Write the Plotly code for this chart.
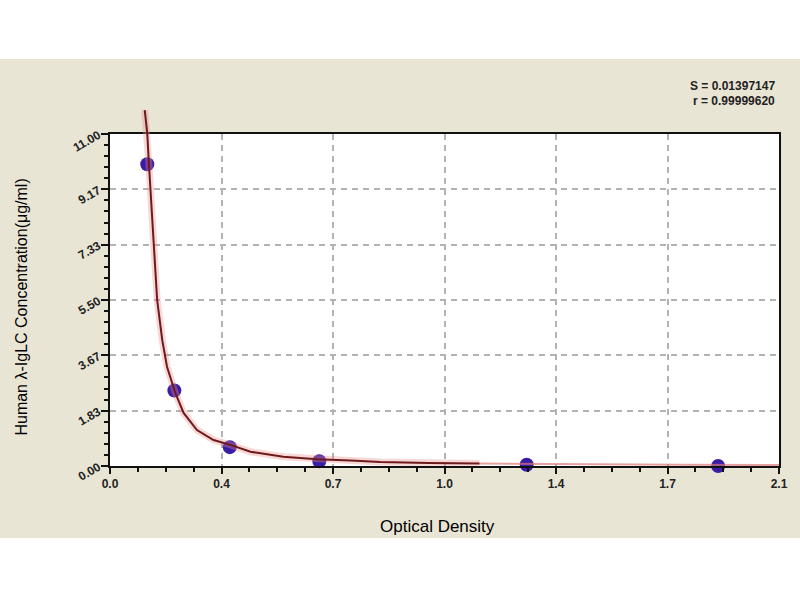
import plotly.graph_objects as go

# Standard points (optical density vs concentration)
od_points = [0.117, 0.202, 0.376, 0.657, 1.308, 1.909]
conc_points = [10.0, 2.5, 0.625, 0.156, 0.039, 0.0]

# Fitted curve
curve_od = [0.109, 0.117, 0.122, 0.132, 0.137, 0.148, 0.164, 0.179, 0.205, 0.231,
            0.273, 0.325, 0.378, 0.441, 0.544, 0.650, 0.755, 0.848, 1.000, 1.160]
curve_conc = [11.79, 11.02, 10.03, 8.26, 7.06, 5.50, 4.17, 3.29, 2.42, 1.76,
              1.19, 0.86, 0.70, 0.47, 0.31, 0.22, 0.18, 0.13, 0.10, 0.08]
tail_od = [1.160, 1.500, 1.800, 2.100]
tail_conc = [0.08, 0.05, 0.04, 0.03]

x_tickvals = [0.0, 0.35, 0.70, 1.05, 1.40, 1.75, 2.10]
x_ticktext = ["0.0", "0.4", "0.7", "1.0", "1.4", "1.7", "2.1"]
y_tickvals = [0.0, 11/6, 22/6, 33/6, 44/6, 55/6, 11.0]
y_ticktext = ["0.00", "1.83", "3.67", "5.50", "7.33", "9.17", "11.00"]

stat_lines = ["S = 0.01397147", "r = 0.99999620"]

BEIGE = "#e9e5d5"
FONT = "Liberation Sans, Arial, sans-serif"

# layout geometry
top_m, bot_m, left_m, right_m = 100, 134, 109.5, 21
plot_h = 600 - top_m - bot_m
plot_w = 800 - left_m - right_m
frac = 332 / plot_h
y2_max = 11.0 / frac

fig = go.Figure()

# glow under curve
fig.add_trace(go.Scatter(x=curve_od, y=curve_conc, mode="lines", xaxis="x2", yaxis="y2",
                         line=dict(color="rgba(235,140,140,0.35)", width=7), hoverinfo="skip",
                         showlegend=False))
fig.add_trace(go.Scatter(x=tail_od, y=tail_conc, mode="lines", xaxis="x2", yaxis="y2",
                         line=dict(color="rgba(220,120,120,0.7)", width=2), hoverinfo="skip",
                         showlegend=False))
fig.add_trace(go.Scatter(x=curve_od, y=curve_conc, mode="lines", xaxis="x2", yaxis="y2",
                         line=dict(color="#6e1a1a", width=2), showlegend=False))
fig.add_trace(go.Scatter(x=od_points, y=conc_points, mode="markers", xaxis="x", yaxis="y",
                         marker=dict(color="#3a1ca6", size=14), cliponaxis=False,
                         showlegend=False))

shapes = [
    # white plot area
    dict(type="rect", xref="x domain", yref="y domain", x0=0, x1=1, y0=0, y1=1,
         fillcolor="white", line=dict(width=0), layer="below"),
    # white bands above and below the beige image
    dict(type="rect", xref="paper", yref="paper", x0=-0.5, x1=1.5,
         y0=(466 - 59) / plot_h, y1=3, fillcolor="white", line=dict(width=0), layer="above"),
    dict(type="rect", xref="paper", yref="paper", x0=-0.5, x1=1.5,
         y0=-3, y1=(466 - 538) / plot_h, fillcolor="white", line=dict(width=0), layer="above"),
]

annotations = []
for i, s in enumerate(stat_lines):
    annotations.append(dict(text=s, xref="paper", yref="paper",
                            x=(777 - left_m) / plot_w,
                            y=(466 - 86 - 15 * i) / plot_h,
                            xanchor="right", yanchor="middle", showarrow=False,
                            font=dict(family=FONT, size=12, color="#222", weight="bold")))
annotations.append(dict(text="Optical Density", xref="paper", yref="paper",
                        x=(437 - left_m) / plot_w, y=(466 - 526) / plot_h,
                        xanchor="center", yanchor="middle",
                        showarrow=False, font=dict(family=FONT, size=17, color="#000")))
annotations.append(dict(text="Human λ-IgLC Concentration(μg/ml)", xref="paper", yref="paper",
                        x=(20 - left_m) / plot_w, y=(466 - 307) / plot_h,
                        xanchor="center", yanchor="middle", textangle=-90, showarrow=False,
                        font=dict(family=FONT, size=16, color="#000")))

fig.update_layout(
    width=800, height=600,
    margin=dict(l=left_m, r=right_m, t=top_m, b=bot_m),
    paper_bgcolor=BEIGE, plot_bgcolor="rgba(0,0,0,0)",
    showlegend=False,
    shapes=shapes, annotations=annotations,
    xaxis=dict(range=[0, 2.1], anchor="y", tickmode="array", tickvals=x_tickvals,
               ticktext=x_ticktext, ticks="outside", ticklen=6, tickwidth=2, tickcolor="#111",
               showline=True, linecolor="#111", linewidth=2, mirror=True,
               showgrid=True, gridcolor="#b3b3b3", griddash="6px,5px", gridwidth=1.5,
               zeroline=False,
               tickfont=dict(family=FONT, size=12, color="#222", weight="bold"),
               minor=dict(tickmode="linear", tick0=0, dtick=0.0875, ticks="outside", ticklen=4,
                          tickwidth=2, tickcolor="#111", showgrid=False)),
    yaxis=dict(range=[0, 11], domain=[0, frac], anchor="x", tickmode="array",
               tickvals=y_tickvals, ticktext=y_ticktext, ticks="outside", ticklen=7,
               tickwidth=2, tickcolor="#111", tickangle=-30,
               showline=True, linecolor="#111", linewidth=2, mirror=True,
               showgrid=True, gridcolor="#b3b3b3", griddash="6px,5px", gridwidth=1.5,
               zeroline=False,
               tickfont=dict(family=FONT, size=12, color="#222", weight="bold"),
               minor=dict(tickmode="linear", tick0=0, dtick=11/30, ticks="outside", ticklen=4,
                          tickwidth=2, tickcolor="#111", showgrid=False)),
    xaxis2=dict(range=[0, 2.1], domain=[0, 1], anchor="y2", visible=False,
                showgrid=False, zeroline=False),
    yaxis2=dict(range=[0, y2_max], domain=[0, 1], anchor="x2", visible=False,
                showgrid=False, zeroline=False),
)

fig.write_html("out.html", config={"displayModeBar": False},
               post_script="document.body.style.margin='0px';")
